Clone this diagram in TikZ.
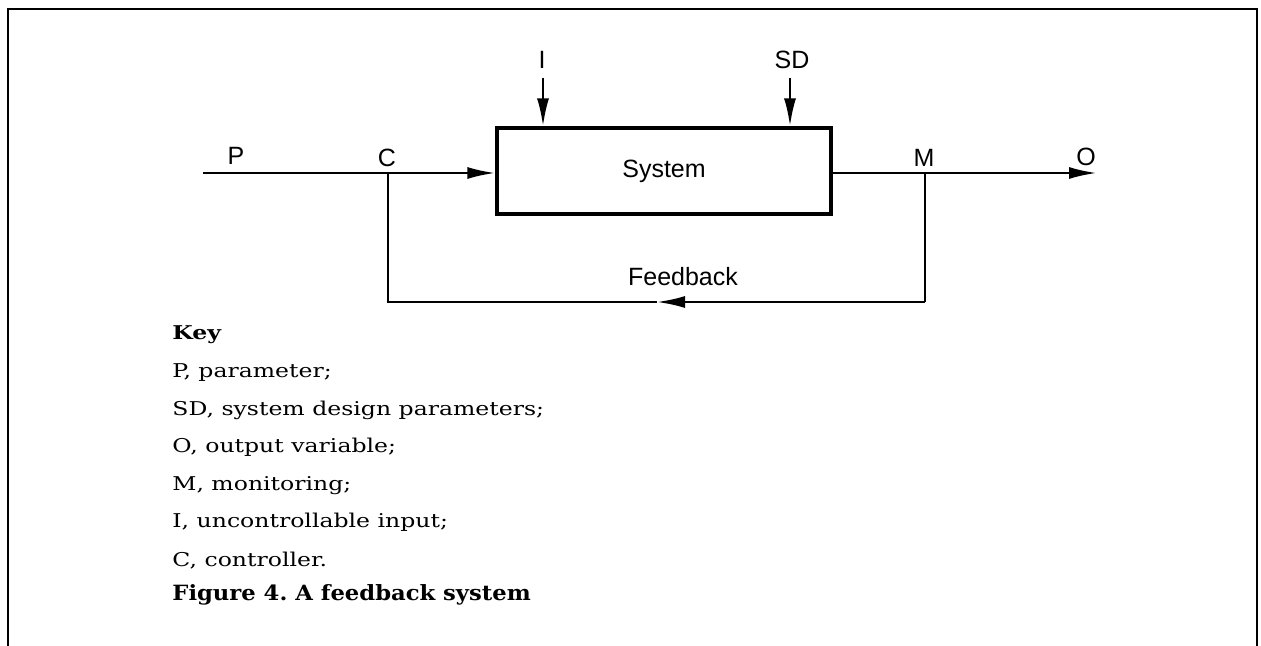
\documentclass[tikz,border=0pt]{standalone}
\usepackage{fontspec}
\usetikzlibrary{arrows.meta}
\setmainfont{DejaVu Serif}
\newfontfamily\isofont{Liberation Sans}
\newfontfamily\keyfont[FakeStretch=1.24]{DejaVu Serif}
\newfontfamily\capfont[FakeStretch=1.08]{DejaVu Serif}
\frenchspacing
\tikzset{
  frameline/.style={line width=1pt},
  conn/.style={line width=1.3pt},
  fbline/.style={line width=1.1pt},
  arr/.style={-{Latex[length=14pt,width=6pt]}},
  sysbox/.style={draw, line width=1.6pt, minimum width=167pt, minimum height=43pt, inner sep=0pt},
  isolabel/.style={font=\isofont\fontsize{12.5}{14}\selectfont, inner sep=0pt},
  keytext/.style={font=\keyfont\fontsize{9.5}{11}\selectfont, anchor=base west, inner sep=0pt},
  captext/.style={font=\capfont\bfseries\fontsize{10.5}{13}\selectfont, anchor=base west, inner sep=0pt}
}
\begin{document}
\begin{tikzpicture}[x=0.5pt,y=-0.5pt]
\useasboundingbox (0,0) rectangle (1261,646);
% frame
\draw[frameline] (8,646) -- (8,9) -- (1257,9) -- (1257,646);
% system box
\node[sysbox, isolabel] (sys) at (664,171) {System};
% coordinates
\coordinate (pstart) at (203,173);
\coordinate (cj) at (388,173);
\coordinate (sysin) at (sys.west |- 0,173);
\coordinate (sysout) at (sys.east |- 0,173);
\coordinate (mj) at (925,173);
\coordinate (oend) at (1097,173);
\coordinate (ibeg) at (543,78);
\coordinate (iend) at (ibeg |- sys.north);
\coordinate (sdbeg) at (790,78);
\coordinate (sdend) at (sdbeg |- sys.north);
\coordinate (cb) at (388,302);
\coordinate (mb) at (925,302);
\coordinate (fa) at (657,302);
% connectors
\draw[conn] (pstart) -- (cj);
\draw[conn, arr] (cj) -- (sysin);
\draw[conn] (sysout) -- (mj);
\draw[conn, arr] (mj) -- (oend);
\draw[conn, arr] (ibeg) -- (iend);
\draw[conn, arr] (sdbeg) -- (sdend);
\draw[fbline] (mj) -- (mb);
\draw[fbline, arr] (mb) -- (fa);
\draw[fbline] (fa) -- (cb) -- (cj);
% labels
\node[isolabel] (lp) at (236,156) {P};
\node[isolabel] (lc) at (387,158) {C};
\node[isolabel] (lm) at (924,158) {M};
\node[isolabel] (lo) at (1086,157) {O};
\node[isolabel] (li) at (542,60) {I};
\node[isolabel] (lsd) at (792,60) {SD};
\node[isolabel] (lfb) at (683,277) {Feedback};
% key
\node[keytext, font=\keyfont\bfseries\fontsize{9.5}{11}\selectfont] (k0) at (172,339) {Key};
\node[keytext] (k1) at (172,377) {P, parameter;};
\node[keytext] (k2) at (172,415) {SD, system design parameters;};
\node[keytext] (k3) at (172,452) {O, output variable;};
\node[keytext] (k4) at (172,490) {M, monitoring;};
\node[keytext] (k5) at (172,527) {I, uncontrollable input;};
\node[keytext] (k6) at (172,566) {C, controller.};
\node[captext] (cap) at (172,600) {Figure 4. A feedback system};
\end{tikzpicture}
\end{document}
